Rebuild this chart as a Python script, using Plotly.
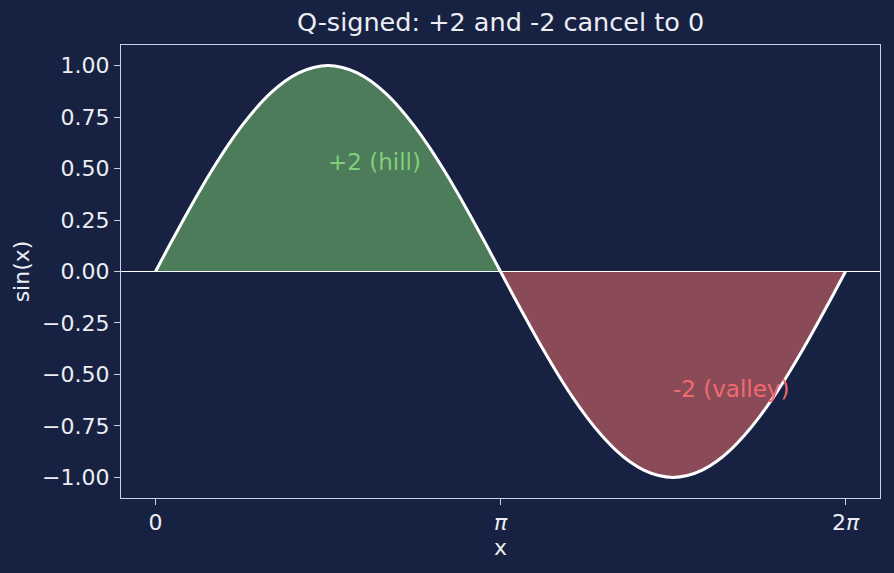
import numpy as np
import plotly.graph_objects as go

# Sample grid: x = k * pi / 24, k = 0..48
steps_per_pi = 24
hill_y = [0.000, 0.131, 0.259, 0.383, 0.500, 0.609, 0.707, 0.793, 0.866, 0.924, 0.966, 0.991,
          1.000, 0.991, 0.966, 0.924, 0.866, 0.793, 0.707, 0.609, 0.500, 0.383, 0.259, 0.131, 0.000]
valley_y = [0.000, -0.131, -0.259, -0.383, -0.500, -0.609, -0.707, -0.793, -0.866, -0.924, -0.966, -0.991,
            -1.000, -0.991, -0.966, -0.924, -0.866, -0.793, -0.707, -0.609, -0.500, -0.383, -0.259, -0.131, 0.000]
x_tick_vals = [0, np.pi, 2 * np.pi]
x_tick_text = ["0", "<i>π</i>", "2<i>π</i>"]
y_tick_vals = [1.0, 0.75, 0.5, 0.25, 0.0, -0.25, -0.5, -0.75, -1.0]
y_tick_text = ["1.00", "0.75", "0.50", "0.25", "0.00", "−0.25", "−0.50", "−0.75", "−1.00"]
labels = ["+2 (hill)", "-2 (valley)"]

hill_x = [k * np.pi / steps_per_pi for k in range(len(hill_y))]
valley_x = [np.pi + k * np.pi / steps_per_pi for k in range(len(valley_y))]
curve_x = hill_x + valley_x[1:]
curve_y = hill_y + valley_y[1:]

BG = "#172142"
AX = "#c9d2e3"
TXT = "#eceef3"
FONT = "DejaVu Sans"

fig = go.Figure()
fig.add_trace(go.Scatter(x=hill_x, y=hill_y, mode="lines", fill="tozeroy",
                         fillcolor="#4d7c5a", line=dict(width=0, shape="spline"),
                         hoverinfo="skip", showlegend=False))
fig.add_trace(go.Scatter(x=valley_x, y=valley_y, mode="lines", fill="tozeroy",
                         fillcolor="#8a4a58", line=dict(width=0, shape="spline"),
                         hoverinfo="skip", showlegend=False))
fig.add_trace(go.Scatter(x=curve_x, y=curve_y, mode="lines",
                         line=dict(color="white", width=3, shape="spline"),
                         showlegend=False))

fig.add_shape(type="line", xref="paper", yref="y", x0=0, x1=1, y0=0, y1=0,
              line=dict(color="white", width=1.2), layer="above")

fig.add_annotation(x=np.pi / 2, y=0.5, text=labels[0], showarrow=False,
                   xanchor="left", yanchor="middle", yshift=7, xshift=-2,
                   font=dict(family=FONT, size=23, color="#80cf7c"))
fig.add_annotation(x=3 * np.pi / 2, y=-0.6, text=labels[1], showarrow=False,
                   xanchor="left", yanchor="middle", yshift=6, xshift=-2,
                   font=dict(family=FONT, size=23, color="#f26a6e"))

fig.update_layout(
    width=894, height=573,
    margin=dict(l=121, r=14, t=45, b=75),
    paper_bgcolor=BG, plot_bgcolor=BG,
    font=dict(family=FONT, color=TXT, size=22),
    title=dict(text="Q-signed: +2 and -2 cancel to 0", x=0.5, xref="paper",
               y=1 - 22 / 573, yref="container", xanchor="center", yanchor="middle",
               font=dict(family=FONT, size=25.5, color=TXT)),
)
fig.update_xaxes(range=[-0.1 * np.pi, 2.1 * np.pi], tickvals=x_tick_vals, ticktext=x_tick_text,
                 showgrid=False, zeroline=False, showline=True, mirror=True,
                 linecolor=AX, linewidth=1.3, ticks="outside", ticklen=6, tickwidth=1.3,
                 tickcolor=AX, tickfont=dict(size=22, color=TXT), ticklabelstandoff=-2,
                 title=dict(text="x", font=dict(size=22, color=TXT), standoff=5))
fig.update_yaxes(range=[-1.1, 1.1], tickvals=y_tick_vals, ticktext=y_tick_text,
                 showgrid=False, zeroline=False, showline=True, mirror=True,
                 linecolor=AX, linewidth=1.3, ticks="outside", ticklen=6, tickwidth=1.3,
                 tickcolor=AX, tickfont=dict(size=22, color=TXT),
                 title=dict(text="sin(x)", font=dict(size=22, color=TXT), standoff=6))

fig.write_html("out.html")
